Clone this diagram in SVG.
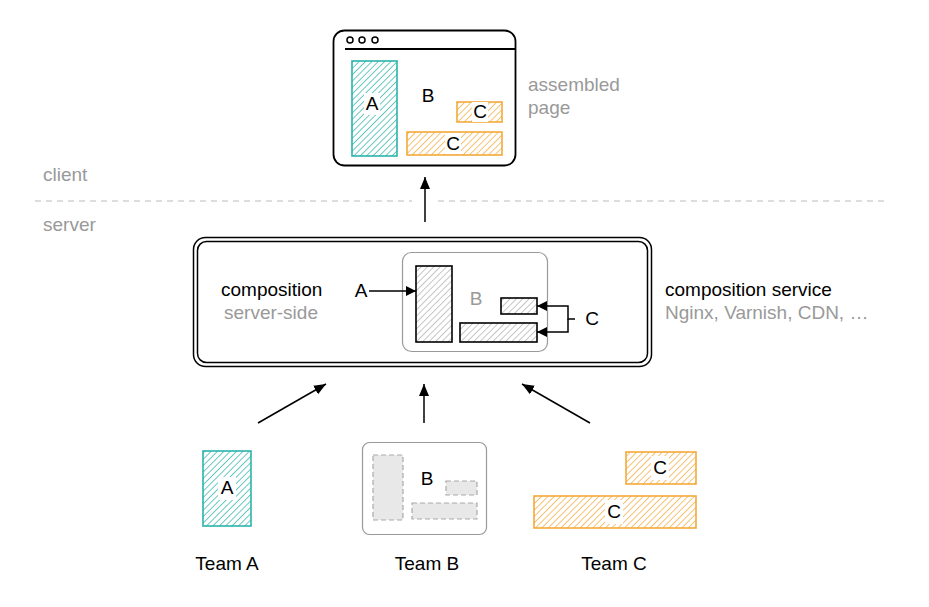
<svg xmlns="http://www.w3.org/2000/svg" width="929" height="607" viewBox="0 0 929 607">
<defs>
<pattern id="hTeal" width="4.5" height="4.5" patternUnits="userSpaceOnUse" patternTransform="rotate(45)"><line x1="0" y1="0" x2="0" y2="4.5" stroke="#2bb3aa" stroke-width="1.4"/></pattern>
<pattern id="hOrange" width="4.5" height="4.5" patternUnits="userSpaceOnUse" patternTransform="rotate(45)"><line x1="0" y1="0" x2="0" y2="4.5" stroke="#f4a93a" stroke-width="1.4"/></pattern>
<pattern id="hGray" width="4.5" height="4.5" patternUnits="userSpaceOnUse" patternTransform="rotate(45)"><line x1="0" y1="0" x2="0" y2="4.5" stroke="#999" stroke-width="1.1"/></pattern>
<marker id="arr" viewBox="0 0 10 10" refX="10" refY="5" markerWidth="10" markerHeight="10" markerUnits="userSpaceOnUse" orient="auto"><path d="M0,0 L10,5 L0,10 z" fill="#000"/></marker>
<marker id="arrL" viewBox="0 0 12 10" refX="12" refY="5" markerWidth="12" markerHeight="10" markerUnits="userSpaceOnUse" orient="auto"><path d="M0,0 L12,5 L0,10 z" fill="#000"/></marker>
</defs>
<style>
text{font-family:"Liberation Sans",Arial,sans-serif;font-size:19px;fill:#000}
.g{fill:#999}
.c{text-anchor:middle}
.teal{fill:url(#hTeal);stroke:#2bb3aa;stroke-width:1.6}
.orange{fill:url(#hOrange);stroke:#f4a93a;stroke-width:1.6}
.gh{fill:url(#hGray);stroke:#000;stroke-width:1.6}
.lb{fill:#fff}
.dash{fill:#e8e8e8;stroke:#aaa;stroke-width:1.2;stroke-dasharray:5 3}
.conn{stroke:#000;stroke-width:1.5;fill:none}
</style>
<rect width="929" height="607" fill="#fff"/>

<g id="zones">
<line x1="35" y1="201" x2="412" y2="201" stroke="#bbb" stroke-width="1.2" stroke-dasharray="6 5"/>
<line x1="438" y1="201" x2="886" y2="201" stroke="#bbb" stroke-width="1.2" stroke-dasharray="6 5"/>
<text class="g" x="43" y="181">client</text>
<text class="g" x="43" y="231">server</text>
</g>

<g id="assembled-page">
<rect x="333.5" y="30.5" width="182" height="135" rx="11" fill="#fff" stroke="#000" stroke-width="1.8"/>
<line x1="345" y1="49" x2="515" y2="49" stroke="#000" stroke-width="1.8"/>
<circle cx="350" cy="40" r="3" fill="none" stroke="#000" stroke-width="1.5"/>
<circle cx="362" cy="40" r="3" fill="none" stroke="#000" stroke-width="1.5"/>
<circle cx="375" cy="40" r="3" fill="none" stroke="#000" stroke-width="1.5"/>
<rect class="teal" x="352" y="61" width="45" height="95"/>
<rect class="lb" x="364" y="93" width="16" height="22"/>
<text class="c" x="372" y="110">A</text>
<text class="c" x="428" y="102">B</text>
<rect class="orange" x="457" y="102" width="45" height="20"/>
<rect class="lb" x="472" y="102" width="16" height="20"/>
<text class="c" x="480" y="118">C</text>
<rect class="orange" x="407" y="132" width="95" height="23"/>
<rect class="lb" x="445" y="133" width="16" height="21"/>
<text class="c" x="453" y="150">C</text>
<text class="g" x="528" y="91">assembled</text>
<text class="g" x="528" y="114">page</text>
</g>

<g id="composition">
<rect x="193.5" y="237.5" width="458" height="129" rx="12" fill="#fff" stroke="#000" stroke-width="1.5"/>
<rect x="197.5" y="241.5" width="450" height="121" rx="9" fill="none" stroke="#000" stroke-width="1.5"/>
<text x="221" y="296">composition</text>
<text class="g" x="224" y="319">server-side</text>
<rect x="402.5" y="252.5" width="145" height="99" rx="9" fill="#fff" stroke="#999" stroke-width="1.2"/>
<rect class="gh" x="416" y="266" width="36" height="76"/>
<text class="g c" x="476" y="305">B</text>
<rect class="gh" x="501" y="298" width="36" height="16"/>
<rect class="gh" x="460" y="323" width="77" height="19"/>
<text class="c" x="361" y="297">A</text>
<text class="c" x="592" y="325">C</text>
</g>

<g id="service-label">
<text x="665" y="296">composition service</text>
<text class="g" x="665" y="319">Nginx, Varnish, CDN, …</text>
</g>

<g id="team-a">
<rect class="teal" x="203" y="451" width="48" height="75"/>
<rect class="lb" x="218" y="477" width="18" height="23"/>
<text class="c" x="227" y="494">A</text>
<text class="c" x="227" y="570">Team A</text>
</g>

<g id="team-b">
<rect x="362.5" y="442.5" width="124" height="92" rx="7" fill="#fff" stroke="#999" stroke-width="1.2"/>
<rect class="dash" x="373" y="455" width="30" height="65"/>
<rect class="dash" x="446" y="481" width="31" height="14"/>
<rect class="dash" x="412" y="503" width="65" height="16"/>
<text class="c" x="427" y="485">B</text>
<text class="c" x="427" y="570">Team B</text>
</g>

<g id="team-c">
<rect class="orange" x="626" y="452" width="70" height="32"/>
<rect class="lb" x="651" y="456" width="18" height="24"/>
<text class="c" x="660" y="474">C</text>
<rect class="orange" x="534" y="496" width="162" height="32"/>
<rect class="lb" x="605" y="500" width="18" height="24"/>
<text class="c" x="614" y="518">C</text>
<text class="c" x="614" y="570">Team C</text>
</g>

<g id="connectors">
<line class="conn" x1="425" y1="222" x2="425" y2="177" marker-end="url(#arrL)"/>
<line class="conn" x1="369" y1="291" x2="416" y2="291" marker-end="url(#arr)"/>
<path class="conn" d="M575,319 H568 V306 H537" marker-end="url(#arr)"/>
<path class="conn" d="M568,319 V332 H537" marker-end="url(#arr)"/>
<line class="conn" x1="258" y1="423" x2="326" y2="384" marker-end="url(#arrL)"/>
<line class="conn" x1="424" y1="423" x2="424" y2="384" marker-end="url(#arrL)"/>
<line class="conn" x1="590" y1="423" x2="522" y2="384" marker-end="url(#arrL)"/>
</g>
</svg>
